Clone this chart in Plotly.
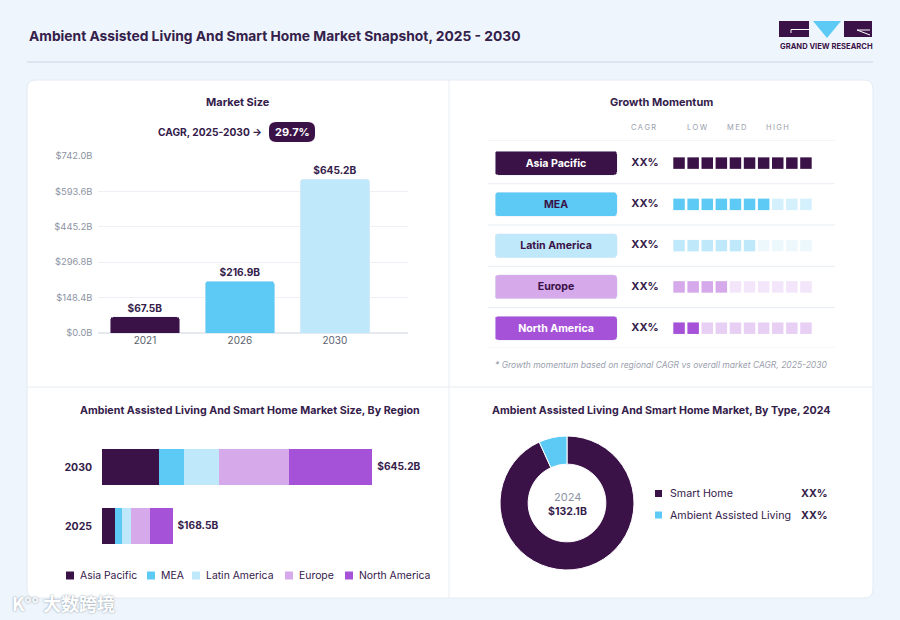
import numpy as np
import plotly.graph_objects as go

W, H = 900, 620

# --- market size (top left)
ms_years = ["2021", "2026", "2030"]
ms_values = [67.5, 216.9, 645.2]
ms_labels = ["$67.5B", "$216.9B", "$645.2B"]
ms_ticks = [0, 148.4, 296.8, 445.2, 593.6, 742.0]
ms_ticktext = ["$0.0B", "$148.4B", "$296.8B", "$445.2B", "$593.6B", "$742.0B"]
cagr_label = "29.7%"

# --- growth momentum (top right)
gm_regions = ["Asia Pacific", "MEA", "Latin America", "Europe", "North America"]
gm_cagr = ["XX%", "XX%", "XX%", "XX%", "XX%"]
gm_filled = [10, 7, 6, 4, 2]
gm_steps = 10

# --- market size by region (bottom left)
rg_years = ["2025", "2030"]
rg_asia = [32.0, 137.0]
rg_mea = [15.2, 58.1]
rg_latam = [22.4, 84.4]
rg_europe = [44.1, 165.6]
rg_na = [54.8, 200.1]
rg_totals = ["$168.5B", "$645.2B"]

# --- by type (bottom right)
tp_labels = ["Smart Home", "Ambient Assisted Living"]
tp_share = [93.2, 6.8]
tp_share_text = ["XX%", "XX%"]
tp_year = "2024"
tp_total = "$132.1B"

DARK = "#3b1247"
CYAN = "#5ccaf5"
LCYAN = "#bfe9fa"
LAV = "#d5a9ea"
PURP = "#a652d8"
TXT = "#34204a"
GREY = "#8d93a3"
LINE = "#e8edf3"
BG = "#eef5fc"
FONT = "Inter"

region_colors = [DARK, CYAN, LCYAN, LAV, PURP]
region_faded = [DARK, "#d3f0fc", "#edf8fd", "#f3e6fa", "#e8d0f5"]
region_text = ["white", DARK, DARK, DARK, "white"]


def px(x):
    return x / W


def py(y):
    return 1 - y / H


def rrect(x0, y0, x1, y1, r):
    rx, ry = r / W, r / H
    a, b, c, d = px(x0), py(y0), px(x1), py(y1)
    return (f"M {a+rx},{b} L {c-rx},{b} Q {c},{b} {c},{b-ry} "
            f"L {c},{d+ry} Q {c},{d} {c-rx},{d} L {a+rx},{d} "
            f"Q {a},{d} {a},{d+ry} L {a},{b-ry} Q {a},{b} {a+rx},{b} Z")


fig = go.Figure()

# market size bars
fig.add_trace(go.Bar(
    x=ms_years, y=ms_values, width=0.73,
    marker=dict(color=[DARK, CYAN, LCYAN], cornerradius=3),
    text=ms_labels, textposition="outside", cliponaxis=False,
    textfont=dict(family=FONT, size=10.2, color=TXT, weight="bold"),
    xaxis="x", yaxis="y", showlegend=False,
))

# growth momentum pills
rows = list(range(len(gm_regions)))
fig.add_trace(go.Bar(
    y=rows, x=[8.65] * len(rows), base=-12.05, orientation="h", width=0.58,
    marker=dict(color=region_colors, cornerradius=3),
    text=gm_regions, textposition="inside", insidetextanchor="middle",
    textangle=0, constraintext="none",
    textfont=dict(family=FONT, size=10.6, color=region_text, weight="bold"),
    xaxis="x2", yaxis="y2", showlegend=False,
))

# momentum squares
sq_x, sq_y, sq_c = [], [], []
for r in rows:
    for k in range(gm_steps):
        sq_x.append(k + 1)
        sq_y.append(r)
        sq_c.append(region_colors[r] if k < gm_filled[r] else region_faded[r])
fig.add_trace(go.Scatter(
    x=sq_x, y=sq_y, mode="markers",
    marker=dict(symbol="square", size=11.5, color=sq_c, line=dict(width=0)),
    xaxis="x2", yaxis="y2", showlegend=False,
))

fig.add_trace(go.Scatter(
    x=[-1.41] * len(rows), y=rows, mode="text", text=gm_cagr,
    textfont=dict(family=FONT, size=11, color=TXT, weight="bold"),
    xaxis="x2", yaxis="y2", showlegend=False,
))

# stacked region bars
rg_series = [rg_asia, rg_mea, rg_latam, rg_europe, rg_na]
for name, vals, col in zip(gm_regions, rg_series, region_colors):
    fig.add_trace(go.Bar(
        y=rg_years, x=vals, orientation="h", width=0.61, name=name,
        marker=dict(color=col, line=dict(width=0)),
        xaxis="x3", yaxis="y3", showlegend=False,
    ))
totals = np.sum(np.array(rg_series), axis=0)
fig.add_trace(go.Scatter(
    x=totals, y=rg_years, mode="text", text=["  " + t for t in rg_totals],
    textposition="middle right", cliponaxis=False,
    textfont=dict(family=FONT, size=10.2, color=TXT, weight="bold"),
    xaxis="x3", yaxis="y3", showlegend=False,
))

# donut
fig.add_trace(go.Pie(
    labels=tp_labels, values=tp_share, hole=0.58, sort=False,
    direction="clockwise", rotation=0, textinfo="none",
    marker=dict(colors=[DARK, CYAN], line=dict(color="white", width=1)),
    domain=dict(x=[px(500), px(634)], y=[py(570), py(436)]),
    showlegend=False,
))

shapes = [
    dict(type="line", xref="paper", yref="paper", x0=px(27), x1=px(873),
         y0=py(62), y1=py(62), line=dict(color="#dde6f0", width=2), layer="below"),
    dict(type="path", xref="paper", yref="paper", path=rrect(27, 80, 873, 598, 9),
         fillcolor="white", line=dict(color="#e4ebf3", width=1), layer="below"),
    dict(type="line", xref="paper", yref="paper", x0=px(449), x1=px(449),
         y0=py(80), y1=py(598), line=dict(color=LINE, width=1), layer="below"),
    dict(type="line", xref="paper", yref="paper", x0=px(27), x1=px(873),
         y0=py(387), y1=py(387), line=dict(color=LINE, width=1), layer="below"),
    # CAGR pill
    dict(type="path", xref="paper", yref="paper", path=rrect(269, 122, 315, 142, 7),
         fillcolor=DARK, line=dict(width=0)),
    # logo
    dict(type="rect", xref="paper", yref="paper", x0=px(779), x1=px(809),
         y0=py(21), y1=py(37), fillcolor=DARK, line=dict(width=0)),
    dict(type="line", xref="paper", yref="paper", x0=px(791), x1=px(809),
         y0=py(29.5), y1=py(29.5), line=dict(color="white", width=1)),
    dict(type="line", xref="paper", yref="paper", x0=px(791), x1=px(791),
         y0=py(29.5), y1=py(33), line=dict(color="white", width=1)),
    dict(type="path", xref="paper", yref="paper",
         path=f"M {px(813)},{py(21)} L {px(841)},{py(21)} L {px(827)},{py(38)} Z",
         fillcolor=CYAN, line=dict(width=0)),
    dict(type="rect", xref="paper", yref="paper", x0=px(844), x1=px(872),
         y0=py(21), y1=py(37), fillcolor=DARK, line=dict(width=0)),
    dict(type="line", xref="paper", yref="paper", x0=px(857), x1=px(870),
         y0=py(30), y1=py(30), line=dict(color="white", width=1)),
    dict(type="line", xref="paper", yref="paper", x0=px(857), x1=px(870),
         y0=py(30), y1=py(35), line=dict(color="white", width=1)),
]

# momentum row separators
for yv in [-0.56, 0.5, 1.5, 2.5, 3.5, 4.48]:
    shapes.append(dict(type="line", xref="x2 domain", yref="y2", x0=0, x1=1,
                       y0=yv, y1=yv, line=dict(color=LINE, width=1), layer="below"))


def ann(x, y, text, size=11, color=TXT, bold=True, xanchor="center", **kw):
    f = dict(family=FONT, size=size, color=color)
    if bold:
        f["weight"] = "bold"
    f.update(kw.pop("font", {}))
    return dict(x=px(x), y=py(y), xref="paper", yref="paper", text=text,
                showarrow=False, xanchor=xanchor, yanchor="middle", font=f, **kw)


annotations = [
    ann(27, 36, "Ambient Assisted Living And Smart Home Market Snapshot, 2025 - 2030",
        size=13.8, xanchor="left"),
    ann(826, 46, "GRAND VIEW RESEARCH", size=7.6, color=DARK),
    ann(238, 102, "Market Size", size=11),
    ann(264, 132, "CAGR, 2025-2030 \u2192", size=10.2, xanchor="right"),
    ann(292, 132, cagr_label, size=11, color="white"),
    ann(661, 102, "Growth Momentum", size=11),
    ann(661, 365, "* Growth momentum based on regional CAGR vs overall market CAGR, 2025-2030",
        size=8.5, color="#9aa0ad", bold=False, font=dict(style="italic")),
    ann(250, 410, "Ambient Assisted Living And Smart Home Market Size, By Region", size=10.7),
    ann(661, 410, "Ambient Assisted Living And Smart Home Market, By Type, 2024", size=10.7),
    ann(567, 497, tp_year, size=11, color=GREY, bold=False),
    ann(567, 511, tp_total, size=10.5),
    ann(63, 603, "K\u00b0\u00b0 \u5927\u6570\u8de8\u5883", size=18, color="white", xanchor="center",
        font=dict(family="Noto Sans CJK SC", shadow="0px 0px 2px #7f8c99")),
]

for x, t in zip([643, 697, 736, 777], ["CAGR", "LOW", "MED", "HIGH"]):
    annotations.append(ann(x, 128, "\u2009".join(t), size=7.5, color="#9aa0ad", bold=False))

# bottom-left legend
leg_x = [66, 147, 192, 285, 345]
for x, name, col in zip(leg_x, gm_regions, region_colors):
    shapes.append(dict(type="rect", xref="paper", yref="paper", x0=px(x), x1=px(x + 8),
                       y0=py(571.5), y1=py(579.5), fillcolor=col, line=dict(width=0)))
    annotations.append(ann(x + 12, 575.5, name, size=10.4, bold=False, xanchor="left"))

# donut legend
for (yy, name, share, col) in zip([493.5, 515], tp_labels, tp_share_text, [DARK, CYAN]):
    shapes.append(dict(type="rect", xref="paper", yref="paper", x0=px(655), x1=px(662),
                       y0=py(yy - 3.5), y1=py(yy + 3.5), fillcolor=col, line=dict(width=0)))
    annotations.append(ann(668, yy, name, size=10.7, bold=False, xanchor="left"))
    annotations.append(ann(799, yy, share, size=10.7, xanchor="left"))

fig.update_layout(
    width=W, height=H,
    margin=dict(l=0, r=0, t=0, b=0, pad=0, autoexpand=False),
    paper_bgcolor=BG, plot_bgcolor="rgba(0,0,0,0)",
    barmode="stack", hovermode=False,
    font=dict(family=FONT, color=TXT),
    shapes=shapes, annotations=annotations,
    xaxis=dict(domain=[px(97.5), px(408)], range=[-0.5, 2.77], type="category",
               showgrid=False, showline=False, ticks="", anchor="y", automargin=False,
               tickfont=dict(size=10, color="#5b5f6e")),
    yaxis=dict(domain=[py(333), py(156)], range=[0, 742], tickvals=ms_ticks,
               ticktext=ms_ticktext, gridcolor="#edf0f5", zeroline=True,
               zerolinecolor="#e6eaf0", showline=False, anchor="x", automargin=False,
               ticklabelstandoff=4, tickfont=dict(size=9.4, color=GREY)),
    xaxis2=dict(domain=[px(488), px(835)], range=[-12.55, 12.06], visible=False,
                anchor="y2", automargin=False),
    yaxis2=dict(domain=[py(348), py(140)], range=[4.48, -0.56], visible=False,
                anchor="x2", automargin=False),
    xaxis3=dict(domain=[px(102), px(442)], range=[0, 811], visible=False,
                anchor="y3", automargin=False),
    yaxis3=dict(domain=[py(555.5), py(437.5)], range=[-0.5, 1.5], type="category",
                categoryorder="array", categoryarray=rg_years, showgrid=False,
                showline=False, zeroline=False, ticks="", anchor="x3", automargin=False,
                ticklabelstandoff=9,
                tickfont=dict(size=10.5, color=TXT, weight="bold")),
)

# pin the 900x620 figure to the window's top-left corner (no body margin / extra page height)
pin = ("document.body.style.margin='0';"
       "var g=document.querySelector('.plotly-graph-div');"
       "g.style.position='fixed';g.style.top='0';g.style.left='0';")
fig.write_html("out.html", config={"displayModeBar": False}, post_script=pin)
